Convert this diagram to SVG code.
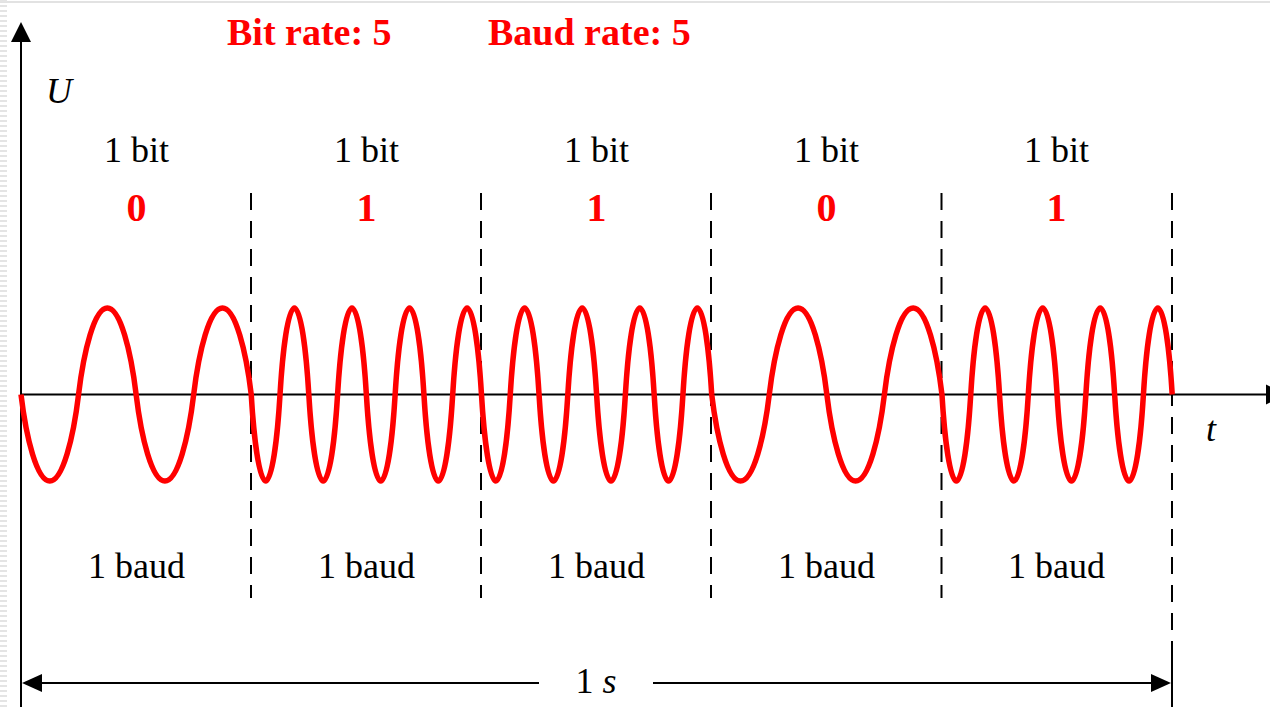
<svg xmlns="http://www.w3.org/2000/svg" width="1270" height="707" viewBox="0 0 1270 707">
<style>
.lbl{font-family:"Liberation Serif","Times New Roman",serif;font-size:36px;fill:#000;text-anchor:middle}
.bit{font-family:"Liberation Serif","Times New Roman",serif;font-size:40px;font-weight:bold;fill:#ff0000;text-anchor:middle}
.title{font-family:"Liberation Serif","Times New Roman",serif;font-size:38px;font-weight:bold;fill:#ff0000}
.it{font-family:"Liberation Serif","Times New Roman",serif;font-size:36px;font-style:italic;fill:#000}
.axis{stroke:#000;stroke-width:2;fill:none}
.dash{stroke:#000;stroke-width:2;stroke-dasharray:17 11;fill:none}
.wave{stroke:#ff0000;stroke-width:5.5;fill:none;stroke-linejoin:round}
</style>
<rect width="1270" height="707" fill="#fff"/>
<g id="frame">
<line x1="0" y1="2" x2="1270" y2="2" stroke="#e2e2e2" stroke-width="2"/>
<line x1="3.5" y1="0" x2="3.5" y2="707" stroke="#e4e4e4" stroke-width="7" stroke-dasharray="2 3"/>
</g>
<g id="connectors">
<line class="axis" x1="21" y1="40" x2="21" y2="707"/>
<polygon points="21,22 11,42 31,42" fill="#000"/>
<line class="axis" x1="21" y1="394.5" x2="1268" y2="394.5"/>
<polygon points="1266,384.5 1286,394.5 1266,404.5" fill="#000"/>
<line class="dash" x1="251" y1="193" x2="251" y2="598"/>
<line class="dash" x1="481" y1="193" x2="481" y2="598"/>
<line class="dash" x1="711" y1="193" x2="711" y2="598"/>
<line class="dash" x1="941.5" y1="193" x2="941.5" y2="598"/>
<line class="dash" x1="1172" y1="193" x2="1172" y2="655"/>
<line class="axis" x1="1172" y1="655" x2="1172" y2="707"/>
<line class="axis" x1="40" y1="683" x2="539" y2="683"/>
<line class="axis" x1="653" y1="683" x2="1152" y2="683"/>
<polygon points="22,683 42,674 42,692" fill="#000"/>
<polygon points="1171,683 1151,674 1151,692" fill="#000"/>
</g>
<g id="signal">
<path class="wave" d="M21,394.5
c 5.18,43.25 15.83,86.5 28.78,86.5 c 12.95,0 23.60,-43.25 28.78,-86.5 c 5.18,-43.25 15.83,-86.5 28.78,-86.5 c 12.95,0 23.60,43.25 28.78,86.5
c 5.18,43.25 15.83,86.5 28.78,86.5 c 12.95,0 23.60,-43.25 28.78,-86.5 c 5.18,-43.25 15.83,-86.5 28.78,-86.5 c 12.95,0 23.60,43.25 28.78,86.5
c 2.59,43.25 7.91,86.5 14.39,86.5 c 6.48,0 11.80,-43.25 14.39,-86.5 c 2.59,-43.25 7.91,-86.5 14.39,-86.5 c 6.48,0 11.80,43.25 14.39,86.5
c 2.59,43.25 7.91,86.5 14.39,86.5 c 6.48,0 11.80,-43.25 14.39,-86.5 c 2.59,-43.25 7.91,-86.5 14.39,-86.5 c 6.48,0 11.80,43.25 14.39,86.5
c 2.59,43.25 7.91,86.5 14.39,86.5 c 6.48,0 11.80,-43.25 14.39,-86.5 c 2.59,-43.25 7.91,-86.5 14.39,-86.5 c 6.48,0 11.80,43.25 14.39,86.5
c 2.59,43.25 7.91,86.5 14.39,86.5 c 6.48,0 11.80,-43.25 14.39,-86.5 c 2.59,-43.25 7.91,-86.5 14.39,-86.5 c 6.48,0 11.80,43.25 14.39,86.5
c 2.59,43.25 7.91,86.5 14.39,86.5 c 6.48,0 11.80,-43.25 14.39,-86.5 c 2.59,-43.25 7.91,-86.5 14.39,-86.5 c 6.48,0 11.80,43.25 14.39,86.5
c 2.59,43.25 7.91,86.5 14.39,86.5 c 6.48,0 11.80,-43.25 14.39,-86.5 c 2.59,-43.25 7.91,-86.5 14.39,-86.5 c 6.48,0 11.80,43.25 14.39,86.5
c 2.59,43.25 7.91,86.5 14.39,86.5 c 6.48,0 11.80,-43.25 14.39,-86.5 c 2.59,-43.25 7.91,-86.5 14.39,-86.5 c 6.48,0 11.80,43.25 14.39,86.5
c 2.59,43.25 7.91,86.5 14.39,86.5 c 6.48,0 11.80,-43.25 14.39,-86.5 c 2.59,-43.25 7.91,-86.5 14.39,-86.5 c 6.48,0 11.80,43.25 14.39,86.5
c 5.18,43.25 15.83,86.5 28.78,86.5 c 12.95,0 23.60,-43.25 28.78,-86.5 c 5.18,-43.25 15.83,-86.5 28.78,-86.5 c 12.95,0 23.60,43.25 28.78,86.5
c 5.18,43.25 15.83,86.5 28.78,86.5 c 12.95,0 23.60,-43.25 28.78,-86.5 c 5.18,-43.25 15.83,-86.5 28.78,-86.5 c 12.95,0 23.60,43.25 28.78,86.5
c 2.59,43.25 7.91,86.5 14.39,86.5 c 6.48,0 11.80,-43.25 14.39,-86.5 c 2.59,-43.25 7.91,-86.5 14.39,-86.5 c 6.48,0 11.80,43.25 14.39,86.5
c 2.59,43.25 7.91,86.5 14.39,86.5 c 6.48,0 11.80,-43.25 14.39,-86.5 c 2.59,-43.25 7.91,-86.5 14.39,-86.5 c 6.48,0 11.80,43.25 14.39,86.5
c 2.59,43.25 7.91,86.5 14.39,86.5 c 6.48,0 11.80,-43.25 14.39,-86.5 c 2.59,-43.25 7.91,-86.5 14.39,-86.5 c 6.48,0 11.80,43.25 14.39,86.5
c 2.59,43.25 7.91,86.5 14.39,86.5 c 6.48,0 11.80,-43.25 14.39,-86.5 c 2.59,-43.25 7.91,-86.5 14.39,-86.5 c 6.48,0 11.80,43.25 14.39,86.5"/>
</g>
<g id="titles">
<text class="title" x="227" y="45">Bit rate: 5</text>
<text class="title" x="488" y="45">Baud rate: 5</text>
</g>
<g id="axis-labels">
<text class="it" x="46" y="103">U</text>
<text class="it" x="1206" y="441">t</text>
<text class="lbl" x="596" y="693">1 <tspan font-style="italic">s</tspan></text>
</g>
<g id="bit0"><text class="lbl" x="136.5" y="162">1 bit</text><text class="bit" x="136.5" y="221">0</text><text class="lbl" x="136.5" y="578">1 baud</text></g>
<g id="bit1"><text class="lbl" x="366.5" y="162">1 bit</text><text class="bit" x="366.5" y="221">1</text><text class="lbl" x="366.5" y="578">1 baud</text></g>
<g id="bit2"><text class="lbl" x="596.5" y="162">1 bit</text><text class="bit" x="596.5" y="221">1</text><text class="lbl" x="596.5" y="578">1 baud</text></g>
<g id="bit3"><text class="lbl" x="826.5" y="162">1 bit</text><text class="bit" x="826.5" y="221">0</text><text class="lbl" x="826.5" y="578">1 baud</text></g>
<g id="bit4"><text class="lbl" x="1056.5" y="162">1 bit</text><text class="bit" x="1056.5" y="221">1</text><text class="lbl" x="1056.5" y="578">1 baud</text></g>
</svg>
